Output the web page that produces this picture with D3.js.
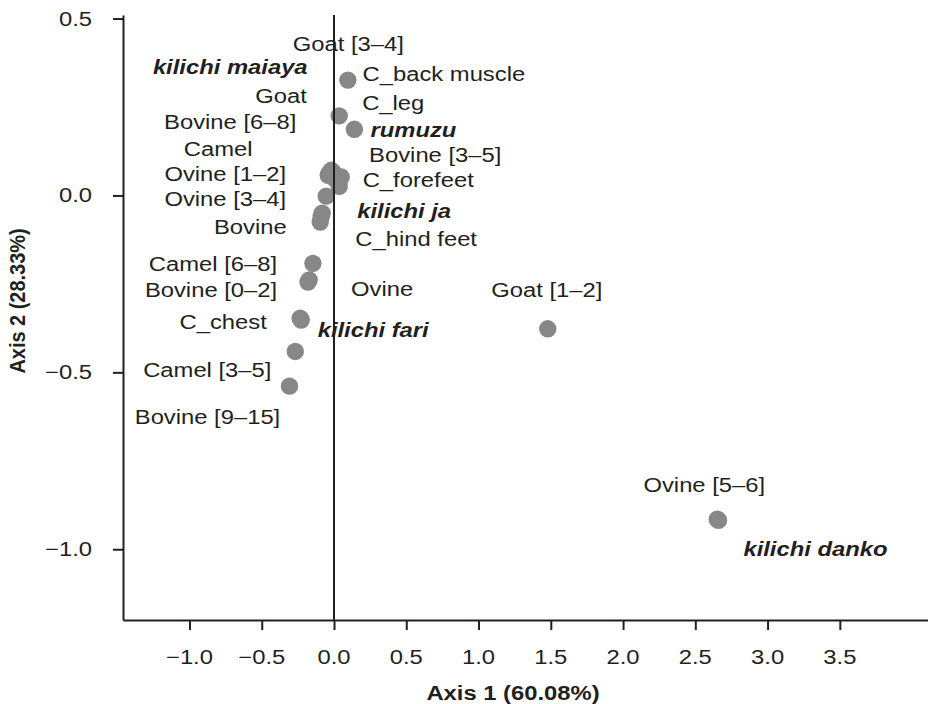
<!DOCTYPE html>
<meta charset="utf-8">
<style>

body {
  margin: 0;
  background: #fff;
}

text {
  font-family: "Liberation Sans", Arial, sans-serif;
  fill: #231f20;
}

.dot {
  fill: #878787;
}

.axis-line {
  stroke: #231f20;
  stroke-width: 2px;
  fill: none;
}

</style>
<body><svg width="928" height="704"></svg></body>
<script src="https://d3js.org/d3.v7.min.js"></script>
<script>

// categories and their coordinates on the two axes
var names = ["Goat [3–4]", "kilichi maiaya", "Goat", "Bovine [6–8]", "Camel", "Ovine [1–2]",
  "Bovine [3–5]", "C_forefeet", "Ovine [3–4]", "kilichi ja", "C_hind feet", "Bovine",
  "Camel [6–8]", "Bovine [0–2]", "Ovine", "C_chest", "kilichi fari", "Camel [3–5]",
  "Bovine [9–15]", "C_back muscle", "C_leg", "rumuzu", "Goat [1–2]", "Ovine [5–6]", "kilichi danko"];

var axis1 = [-0.019, -0.033, -0.006, 0.008, -0.040, -0.026,
  0.050, 0.036, -0.054, -0.082, -0.089, -0.095,
  -0.146, -0.180, -0.172, -0.234, -0.227, -0.268,
  -0.308, 0.096, 0.036, 0.141, 1.479, 2.652, 2.660];

var axis2 = [0.071, 0.063, 0.066, 0.046, 0.057, 0.060,
  0.052, 0.026, -0.002, -0.050, -0.061, -0.075,
  -0.192, -0.245, -0.239, -0.347, -0.352, -0.441,
  -0.539, 0.326, 0.225, 0.187, -0.377, -0.915, -0.918];

// "product" entries are the kilichi types, printed bold italic
var products = ["kilichi maiaya", "kilichi ja", "kilichi fari", "kilichi danko", "rumuzu"];

var xTicks = [-1.0, -0.5, 0.0, 0.5, 1.0, 1.5, 2.0, 2.5, 3.0, 3.5];
var yTicks = [0.5, 0.0, -0.5, -1.0];

var xTitle = "Axis 1 (60.08%)",
    yTitle = "Axis 2 (28.33%)";

// label placement (pixels from the point), like a repel layout
var labelOffset = {
  "Goat [3–4]": [17, -119], "kilichi maiaya": [-99, -99], "Goat": [-52, -69],
  "Bovine [6–8]": [-105, -50], "Camel": [-110, -19], "Ovine [1–2]": [-105, 7],
  "Bovine [3–5]": [94, -15], "C_forefeet": [79, 1], "Ovine [3–4]": [-101, 10],
  "kilichi ja": [82, 5], "C_hind feet": [95, 29], "Bovine": [-70, 12],
  "Camel [6–8]": [-100, 8], "Bovine [0–2]": [-97, 15], "Ovine": [73, 16],
  "C_chest": [-77, 11], "kilichi fari": [72, 17], "Camel [3–5]": [-88, 26],
  "Bovine [9–15]": [-82, 38], "C_back muscle": [96, 1], "C_leg": [54, -6],
  "rumuzu": [59, 8], "Goat [1–2]": [-1, -32], "Ovine [5–6]": [-13, -27],
  "kilichi danko": [97, 36]
};

var svg = d3.select("svg"),
    stretch = 1.19; // the lettering in the figure is a little wide

var x = d3.scaleLinear().domain([-1.46, 4.11]).range([123, 928]),
    y = d3.scaleLinear().domain([-1.2, 0.51]).range([620, 15]);

var data = names.map(function(n, i) {
  return {name: n, a1: axis1[i], a2: axis2[i], product: products.indexOf(n) >= 0};
});

function wide(sel, tx, ty) {
  sel.attr("transform", function(d, i) {
    return "translate(" + tx(d, i) + "," + ty(d, i) + ") scale(" + stretch + ",1)";
  });
}

// axes
var xAxis = svg.append("g")
    .attr("transform", "translate(0," + y.range()[0] + ")")
    .call(d3.axisBottom(x).tickValues(xTicks).tickSizeInner(10).tickSizeOuter(0).tickFormat(""));

var yAxis = svg.append("g")
    .attr("transform", "translate(" + x.range()[0] + ",0)")
    .call(d3.axisLeft(y).tickValues(yTicks).tickSizeInner(10).tickSizeOuter(0).tickFormat(""));

[xAxis, yAxis].forEach(function(g) {
  g.select(".domain").attr("stroke", "#231f20").attr("stroke-width", 2);
  g.selectAll(".tick line").attr("stroke", "#231f20").attr("stroke-width", 2);
});

var fmt = function(v) { return d3.format(".1f")(v).replace("-", "–"); };

svg.append("g").selectAll("text")
    .data(xTicks)
  .enter().append("text")
    .attr("text-anchor", "middle")
    .style("font-size", "20px")
    .text(fmt)
    .call(wide, function(d) { return x(d); }, function() { return 664; });

svg.append("g").selectAll("text")
    .data(yTicks)
  .enter().append("text")
    .attr("text-anchor", "end")
    .style("font-size", "20px")
    .text(fmt)
    .call(wide, function() { return 92; }, function(d) { return y(d) + 7; });

svg.append("text")
    .attr("text-anchor", "middle")
    .style("font-size", "20px")
    .style("font-weight", "bold")
    .text(xTitle)
    .datum(0)
    .call(wide, function() { return 513; }, function() { return 700; });

svg.append("text")
    .attr("text-anchor", "middle")
    .attr("transform", "translate(25,301) rotate(-90) scale(1.05,1.2)")
    .style("font-size", "19px")
    .style("font-weight", "bold")
    .text(yTitle);

// points
svg.append("g").selectAll("circle")
    .data(data)
  .enter().append("circle")
    .attr("class", "dot")
    .attr("cx", function(d) { return x(d.a1); })
    .attr("cy", function(d) { return y(d.a2); })
    .attr("r", 8.7);

// labels
svg.append("g").selectAll("text")
    .data(data)
  .enter().append("text")
    .attr("text-anchor", "middle")
    .style("font-size", "20px")
    .style("font-weight", function(d) { return d.product ? "bold" : null; })
    .style("font-style", function(d) { return d.product ? "italic" : null; })
    .text(function(d) { return d.name; })
    .call(wide,
      function(d) { return x(d.a1) + labelOffset[d.name][0]; },
      function(d) { return y(d.a2) + labelOffset[d.name][1]; });

// vertical reference line at axis 1 = 0
svg.append("line")
    .attr("class", "axis-line")
    .attr("x1", x(0)).attr("x2", x(0))
    .attr("y1", y.range()[1]).attr("y2", y.range()[0]);

</script>
